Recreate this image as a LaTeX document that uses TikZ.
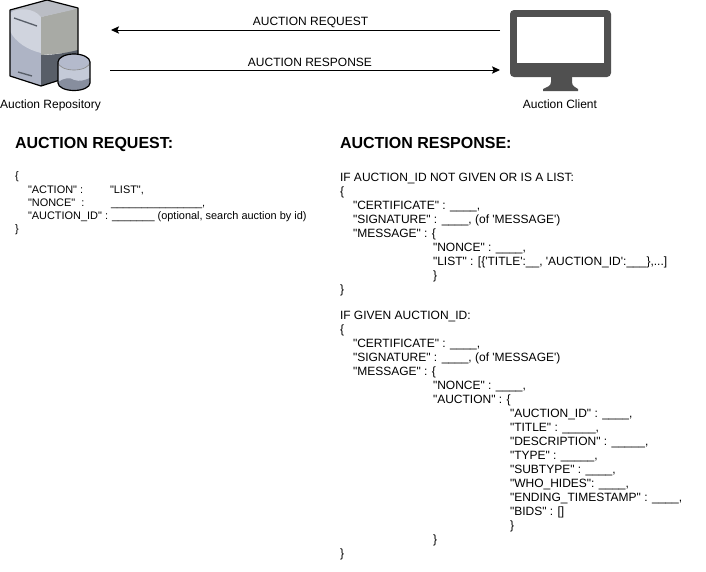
\documentclass[tikz,border=0pt]{standalone}
\usepackage{fontspec}
\newfontfamily\lib{Liberation Sans}
\usetikzlibrary{arrows.meta}
\definecolor{mon}{HTML}{505050}
\definecolor{srvlow}{RGB}{174,180,197}
\definecolor{srvcap}{RGB}{208,212,222}
\definecolor{srvtop}{RGB}{186,189,196}
\definecolor{srvside}{RGB}{168,170,165}
\definecolor{srvdark}{RGB}{88,94,104}
\definecolor{cylbody}{RGB}{196,202,216}
\definecolor{cyltop}{RGB}{180,186,204}
\definecolor{cylwave}{RGB}{135,142,158}
\tikzset{x=0.75pt,y=-0.75pt,
 txt/.style={anchor=base west,inner sep=0pt,outer sep=0pt,font=\lib\fontsize{9}{9}\selectfont,text=black},
 small/.style={anchor=base west,inner sep=0pt,outer sep=0pt,font=\lib\fontsize{8.2}{9}\selectfont,text=black},
 lab/.style={anchor=base,inner sep=0pt,outer sep=0pt,font=\lib\fontsize{9}{9}\selectfont,text=black},
 ttl/.style={anchor=base west,inner sep=0pt,outer sep=0pt,font=\lib\bfseries\fontsize{12}{12}\selectfont,text=black},
 msg/.style={draw=black,line width=0.75pt,-{Stealth[length=6pt,width=5.5pt,inset=1.2pt]}}}
\begin{document}
\begin{tikzpicture}
\useasboundingbox (0,0) rectangle (706,571);
% server
\fill[srvlow] (10,10)--(47,0)--(41,17)--(41,86)--(10,76)--cycle;
\fill[srvtop] (10,10)--(47,0)--(78,8)--(41,17)--cycle;
\fill[srvcap] (10,13) .. controls (18,7) and (34,8) .. (41,17) -- (41,53) .. controls (28,50) and (15,42) .. (10,31) -- cycle;
\fill[srvside] (41,17)--(78,8)--(78,52)--(41,55)--cycle;
\fill[srvtop] (41,17)--(72,10)--(78,8)--(47,2)--cycle;
\fill[srvdark] (41,55) .. controls (50,55) and (62,54) .. (78,50) --(78,74)--(41,86)--cycle;
\draw[black,line width=0.9pt,line join=round] (41,86)--(10,76)--(10,10)--(47,0)--(78,8)--(78,60);
\draw[black,line width=0.9pt] (41,86)--(60,80);
\draw[srvdark,line width=1pt] (14,18)--(37,26);
\draw[srvdark,line width=1pt] (18,72)--(32,76);
% cylinder
\fill[cylbody] (58,62) -- (58,83) arc[start angle=180,end angle=0,x radius=16,y radius=7.5] -- (90,62) -- cycle;
\fill[cylwave] (58,82) .. controls (64,78) and (70,77) .. (74,80) .. controls (80,82) and (85,80) .. (90,78) -- (90,83) arc[start angle=0,end angle=180,x radius=16,y radius=7.5] -- cycle;
\fill[cyltop] (74,62) ellipse[x radius=16,y radius=8];
\draw[black!45,line width=0.5pt] (58,62) arc[start angle=180,end angle=0,x radius=16,y radius=8];
\draw[black,line width=0.9pt] (58,83) -- (58,62) arc[start angle=180,end angle=360,x radius=16,y radius=8] -- (90,83) arc[start angle=0,end angle=180,x radius=16,y radius=7.5];
% monitor
\fill[mon,rounded corners=3pt] (510,10) rectangle (611,77);
\fill[white] (517,17) rectangle (604,63);
\fill[mon] (551,76) -- (572,76) -- (572,82) .. controls (572,86) and (575,87) .. (578,89) -- (578,91) -- (543,91) -- (543,89) .. controls (547,87) and (551,86) .. (551,82) -- cycle;
% labels
\node[lab] (repo) at (50.5,108) {Auction Repository};
\node[lab] (client) at (560,108) {Auction Client};
\node[lab] (reqlab) at (310.5,26) {AUCTION REQUEST};
\node[lab] (reslab) at (310,66) {AUCTION RESPONSE};
\coordinate (repoTop) at (111,30);
\coordinate (clientTop) at (500,30);
\coordinate (repoBot) at (110,70);
\coordinate (clientBot) at (500,70);
\draw[msg] (clientTop) -- (repoTop);
\draw[msg] (repoBot) -- (clientBot);
% titles
\node[ttl] (t1) at (15,148) {AUCTION REQUEST:};
\node[ttl] (t2) at (340,148) {AUCTION RESPONSE:};
% request body
\node[small] (a1) at (15,179) {\{};
\node[small] (a2) at (28,193) {"ACTION" :};
\node[small] (a2b) at (110,193) {"LIST",};
\node[small] (a3) at (28,206) {"NONCE"\ \ :};
\node[small] (a3b) at (111,206) {\_\_\_\_\_\_\_\_\_\_\_\_\_\_\_,};
\node[small] (a4) at (28,219) {"AUCTION\_ID" : \_\_\_\_\_\_\_ (optional, search auction by id)};
\node[small] (a5) at (15,232) {\}};
% response 1
\node[txt] (b0) at (340,181) {IF AUCTION\_ID NOT GIVEN OR IS A LIST:};
\node[txt] (b1) at (340,195) {\{};
\node[txt] (b2) at (353,209) {"CERTIFICATE" : \_\_\_\_,};
\node[txt] (b3) at (353,223) {"SIGNATURE" : \_\_\_\_, (of 'MESSAGE')};
\node[txt] (b4) at (353,237) {"MESSAGE" : \{};
\node[txt] (b5) at (433,251) {"NONCE" : \_\_\_\_,};
\node[txt] (b6) at (433,265) {"LIST" : [\{'TITLE':\_\_, 'AUCTION\_ID':\_\_\_\},...]};
\node[txt] (b7) at (433,279) {\}};
\node[txt] (b8) at (340,293) {\}};
% response 2
\node[txt] (c0) at (340,319) {IF GIVEN AUCTION\_ID:};
\node[txt] (c1) at (340,333) {\{};
\node[txt] (c2) at (353,347) {"CERTIFICATE" : \_\_\_\_,};
\node[txt] (c3) at (353,361) {"SIGNATURE" : \_\_\_\_, (of 'MESSAGE')};
\node[txt] (c4) at (353,375) {"MESSAGE" : \{};
\node[txt] (c5) at (433,389) {"NONCE" : \_\_\_\_,};
\node[txt] (c6) at (433,403) {"AUCTION" : \{};
\node[txt] (d1) at (510,417) {"AUCTION\_ID" : \_\_\_\_,};
\node[txt] (d2) at (510,431) {"TITLE" : \_\_\_\_\_,};
\node[txt] (d3) at (510,445) {"DESCRIPTION" : \_\_\_\_\_,};
\node[txt] (d4) at (510,459) {"TYPE" : \_\_\_\_\_,};
\node[txt] (d5) at (510,473) {"SUBTYPE" : \_\_\_\_,};
\node[txt] (d6) at (510,487) {"WHO\_HIDES": \_\_\_\_,};
\node[txt] (d7) at (510,501) {"ENDING\_TIMESTAMP" : \_\_\_\_,};
\node[txt] (d8) at (510,515) {"BIDS" : []};
\node[txt] (d9) at (510,529) {\}};
\node[txt] (c7) at (433,543) {\}};
\node[txt] (c8) at (340,557) {\}};
\end{tikzpicture}
\end{document}
